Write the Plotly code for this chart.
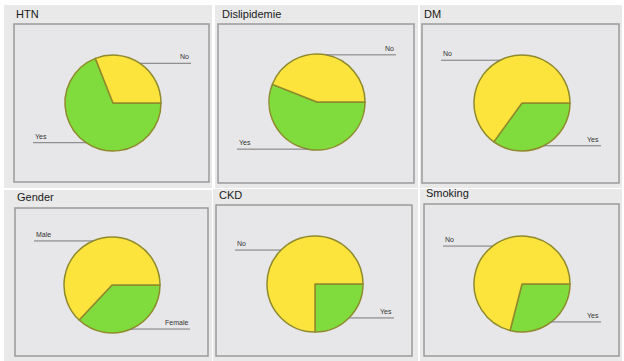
import math
import plotly.graph_objects as go

W, H = 624, 361

titles = ["HTN", "Dislipidemie", "DM", "Gender", "CKD", "Smoking"]
labels_a = ["No", "No", "No", "Male", "No", "No"]          # yellow slice
labels_b = ["Yes", "Yes", "Yes", "Female", "Yes", "Yes"]  # green slice
vals_a = [31, 44, 65, 63, 75, 71]
vals_b = [69, 56, 35, 37, 25, 29]

# panel geometry in pixels: outer panel, inner box, title anchor, pie centre
outer = [(4, 5, 212, 188), (215, 5, 418, 188), (420, 5, 622, 188),
         (4, 190, 212, 361), (213, 189, 418, 361), (420, 189, 622, 361)]
boxes = [(14, 24, 209, 182), (218, 24, 414, 183), (422, 24, 619, 183),
         (15, 208, 208, 356), (216, 205, 412, 356), (424, 204, 619, 356)]
title_pos = [(14, 14), (220, 14), (422, 14), (15, 197), (217, 195), (424, 193)]
centers = [(113, 103), (317, 102), (522, 103), (112, 285), (315, 284), (522, 284)]
R = 48

YELLOW = "#fde43c"
GREEN = "#7fdc3c"
EDGE = "#8f8a2c"


def px(x):
    return x / W


def py(y):
    return 1 - y / H


fig = go.Figure()
shapes = []
annotations = []

for i in range(6):
    ox0, oy0, ox1, oy1 = outer[i]
    shapes.append(dict(type="rect", xref="paper", yref="paper",
                       x0=px(ox0), x1=px(ox1), y0=py(oy1), y1=py(oy0),
                       fillcolor="#e9e9e9", line=dict(width=0), layer="below"))
    bx0, by0, bx1, by1 = boxes[i]
    shapes.append(dict(type="rect", xref="paper", yref="paper",
                       x0=px(bx0), x1=px(bx1), y0=py(by1), y1=py(by0),
                       fillcolor="#e7e7e9", line=dict(width=1.5, color="#9a9a9a"),
                       layer="below"))
    tx, ty = title_pos[i]
    annotations.append(dict(x=px(tx), y=py(ty), xref="paper", yref="paper",
                            text=titles[i], showarrow=False, xanchor="left",
                            yanchor="middle",
                            font=dict(family="Liberation Sans, Arial", size=11,
                                      color="#1a1a1a")))
    cx, cy = centers[i]
    # green first so that, counterclockwise from 3 o'clock, the yellow slice follows
    fig.add_trace(go.Pie(
        values=[vals_b[i], vals_a[i]],
        labels=[labels_b[i], labels_a[i]],
        marker=dict(colors=[GREEN, YELLOW], line=dict(color=EDGE, width=1.5)),
        sort=False, direction="counterclockwise", rotation=90,
        textinfo="none", hoverinfo="label+percent", showlegend=False,
        domain=dict(x=[px(cx - R), px(cx + R)], y=[py(cy + R), py(cy - R)]),
    ))
    # leader lines and labels computed from slice mid-angles
    total = vals_a[i] + vals_b[i]
    start = 0.0
    for v, lab in ((vals_a[i], labels_a[i]), (vals_b[i], labels_b[i])):
        span = 360.0 * v / total
        mid = math.radians(start + span / 2)
        start += span
        ex = cx + R * math.cos(mid)
        ey = cy - R * math.sin(mid)
        if math.cos(mid) >= 0:
            endx = bx1 - 18
            xa = "right"
        else:
            endx = bx0 + 19
            xa = "left"
        shapes.append(dict(type="line", xref="paper", yref="paper",
                           x0=px(ex), x1=px(endx), y0=py(ey), y1=py(ey),
                           line=dict(color="#7a7a7a", width=1)))
        annotations.append(dict(x=px(endx), y=py(ey - 1), xref="paper", yref="paper",
                                text=lab, showarrow=False, xanchor=xa,
                                yanchor="bottom",
                                font=dict(family="Liberation Sans, Arial", size=7,
                                          color="#333333")))

fig.update_layout(width=W, height=H, margin=dict(l=0, r=0, t=0, b=0),
                  paper_bgcolor="white", plot_bgcolor="white",
                  shapes=shapes, annotations=annotations)
fig.write_html("out.html")
